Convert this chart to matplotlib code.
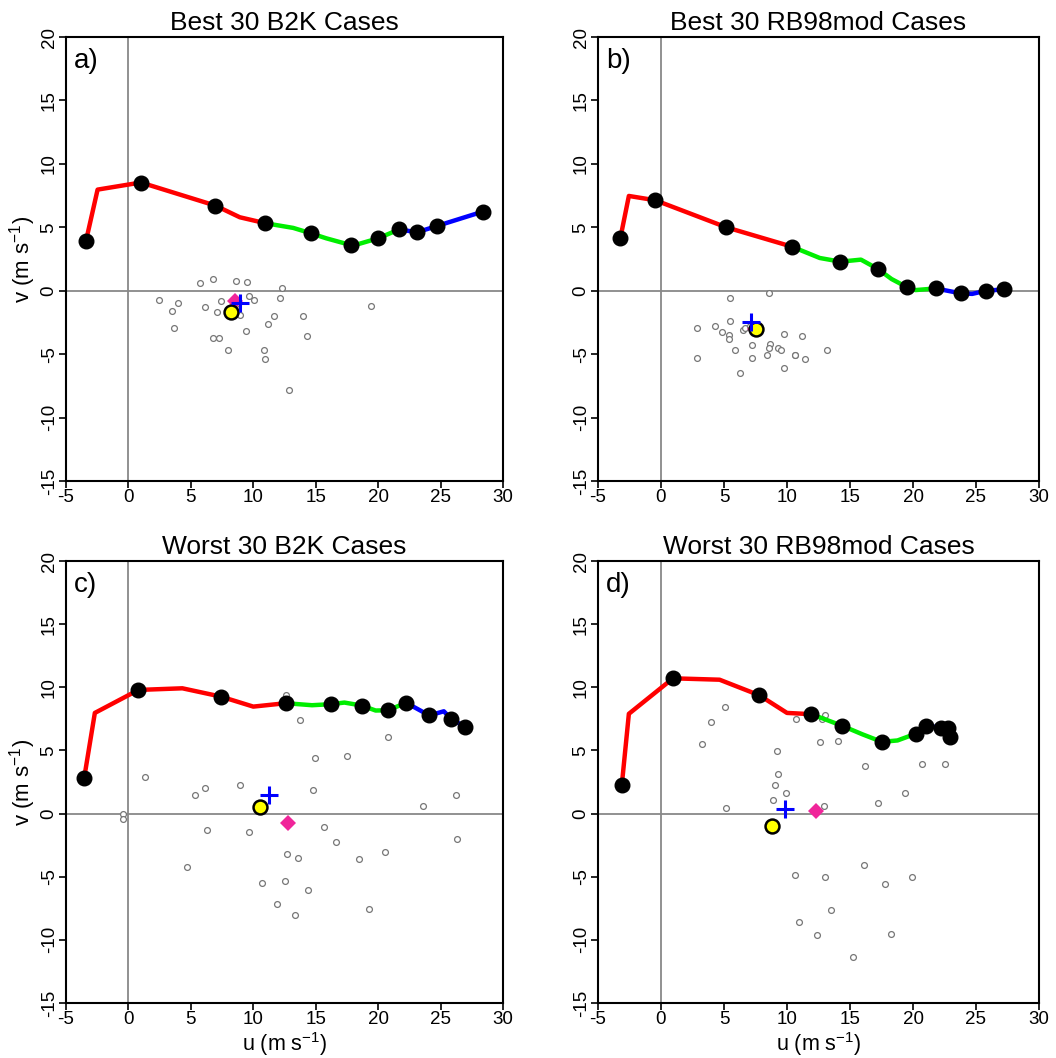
"""
Composite hodographs for the best / worst 30 cases (B2K and RB98mod),
with individual storm motions and mean motion markers.
"""

import matplotlib
matplotlib.use("Agg")
import matplotlib.pyplot as plt

plt.rcParams["font.family"] = ["Liberation Sans", "DejaVu Sans"]
plt.rcParams["mathtext.fontset"] = "custom"
plt.rcParams["mathtext.rm"] = "Liberation Sans"
plt.rcParams["mathtext.it"] = "Liberation Sans:italic"
plt.rcParams["axes.unicode_minus"] = False

# ─────────────────────────────────────────────
# a) Best 30 B2K
a_hodo_u = [-3.40, -2.47, 1.00, 6.97, 8.92, 10.97, 13.20, 14.60, 15.85, 17.80,
            18.50, 20.00, 21.70, 23.10, 24.70, 28.40]
a_hodo_v = [3.92, 7.97, 8.53, 6.71, 5.79, 5.32, 4.95, 4.53, 4.13, 3.60,
            3.70, 4.13, 4.84, 4.60, 5.10, 6.24]
a_dots = [0, 2, 3, 5, 7, 9, 11, 12, 13, 14, 15]
a_breaks = [5, 12]
a_scat_u = [5.77, 6.79, 8.63, 9.53, 12.28, 2.41, 3.96, 3.45, 6.17, 7.40,
            7.10, 9.64, 10.04, 12.10, 8.97, 11.67, 14.00, 11.16, 3.64, 9.42,
            6.79, 7.29, 14.30, 8.01, 10.87, 10.97, 12.90, 19.40, 8.20, 8.60]
a_scat_v = [0.58, 0.90, 0.79, 0.69, 0.19, -0.71, -1.00, -1.60, -1.31, -0.81,
            -1.71, -0.39, -0.71, -0.60, -1.92, -2.00, -2.00, -2.60, -2.92, -3.20,
            -3.71, -3.71, -3.60, -4.71, -4.71, -5.42, -7.81, -1.21, -1.75, -1.40]
a_yellow = (8.25, -1.70)
a_plus = (8.90, -0.95)
a_diamond = (8.50, -0.85)

# b) Best 30 RB98mod
b_hodo_u = [-3.22, -2.55, -0.45, 5.18, 10.40, 12.60, 14.24, 15.87, 17.22, 18.30,
            19.50, 20.20, 21.80, 23.80, 24.70, 25.80, 27.20]
b_hodo_v = [4.18, 7.47, 7.13, 5.00, 3.47, 2.58, 2.29, 2.45, 1.71, 0.92,
            0.29, 0.05, 0.18, -0.21, -0.25, 0.00, 0.10]
b_dots = [0, 2, 3, 4, 6, 8, 10, 12, 13, 15, 16]
b_breaks = [4, 12]
b_scat_u = [5.47, 8.58, 5.47, 2.85, 4.26, 4.86, 5.37, 5.37, 6.50, 6.70,
            9.80, 11.20, 5.86, 7.19, 8.69, 8.58, 9.30, 9.50, 2.85, 7.19,
            8.38, 10.61, 10.66, 11.41, 13.21, 9.80, 6.26, 7.50, 7.10, 7.70]
b_scat_v = [-0.60, -0.21, -2.42, -2.92, -2.81, -3.29, -3.50, -3.81, -3.10, -2.92,
            -3.39, -3.60, -4.71, -4.31, -4.21, -4.52, -4.52, -4.71, -5.31, -5.31,
            -5.10, -5.05, -5.10, -5.42, -4.71, -6.13, -6.52, -3.20, -2.80, -3.00]
b_yellow = (7.55, -3.02)
b_plus = (7.16, -2.50)
b_diamond = (7.45, -3.00)

# c) Worst 30 B2K
c_hodo_u = [-3.54, -2.69, 0.80, 4.32, 7.42, 10.00, 12.60, 14.70, 16.20, 17.30,
            18.70, 19.80, 20.78, 21.70, 22.27, 24.10, 25.26, 25.84, 26.96]
c_hodo_v = [2.84, 7.97, 9.79, 9.92, 9.26, 8.47, 8.74, 8.58, 8.66, 8.79,
            8.55, 8.16, 8.18, 8.55, 8.76, 7.77, 8.10, 7.50, 6.87]
c_dots = [0, 2, 4, 6, 8, 10, 12, 14, 15, 17, 18]
c_breaks = [6, 14]
c_scat_u = [12.59, 13.74, 20.75, 14.96, 17.50, 1.34, 6.11, 5.31, 8.96, 14.78,
            26.24, 23.60, -0.40, -0.40, 6.32, 9.66, 15.68, 16.59, 26.35, 4.70,
            12.72, 13.55, 18.43, 20.56, 10.67, 12.51, 14.35, 11.90, 13.34, 19.23]
c_scat_v = [9.37, 7.37, 6.08, 4.37, 4.58, 2.87, 2.05, 1.48, 2.27, 1.84,
            1.48, 0.58, -0.05, -0.42, -1.31, -1.42, -1.05, -2.23, -2.02, -4.23,
            -3.23, -3.55, -3.63, -3.05, -5.47, -5.37, -6.05, -7.15, -8.05, -7.55]
c_yellow = (10.50, 0.50)
c_plus = (11.23, 1.48)
c_diamond = (12.75, -0.76)

# d) Worst 30 RB98mod
d_hodo_u = [-3.11, -2.55, 0.95, 4.65, 7.80, 10.00, 11.94, 14.33, 16.00, 17.53,
            18.77, 20.27, 21.07, 22.20, 22.80, 22.92]
d_hodo_v = [2.27, 7.90, 10.71, 10.60, 9.37, 7.97, 7.87, 6.97, 6.27, 5.68,
            5.79, 6.34, 6.97, 6.79, 6.79, 6.05]
d_dots = [0, 2, 4, 6, 7, 9, 11, 12, 13, 14, 15]
d_breaks = [6, 12]
d_scat_u = [5.07, 3.96, 3.25, 10.72, 13.02, 12.81, 12.59, 14.02, 9.19, 16.22,
            20.75, 22.50, 9.30, 9.01, 9.90, 8.90, 19.36, 17.25, 5.18, 12.91,
            10.61, 13.02, 16.14, 17.74, 19.96, 13.52, 10.99, 12.42, 18.25, 15.21]
d_scat_v = [8.47, 7.26, 5.48, 7.47, 7.84, 7.47, 5.66, 5.76, 4.95, 3.76,
            3.95, 3.95, 3.16, 2.27, 1.66, 1.06, 1.66, 0.87, 0.45, 0.58,
            -4.84, -5.05, -4.05, -5.55, -5.05, -7.66, -8.55, -9.65, -9.55, -11.37]
d_yellow = (8.77, -0.97)
d_plus = (9.88, 0.35)
d_diamond = (12.30, 0.19)

TITLES = ["Best 30 B2K Cases", "Best 30 RB98mod Cases",
          "Worst 30 B2K Cases", "Worst 30 RB98mod Cases"]
LETTERS = ["a)", "b)", "c)", "d)"]
X_TICKS = [-5, 0, 5, 10, 15, 20, 25, 30]
Y_TICKS = [-15, -10, -5, 0, 5, 10, 15, 20]
SEG_COLORS = ["#ff0000", "#00ee00", "#0000ff"]

# axes rectangles in figure fraction (left, bottom, width, height)
W, H = 1056, 1058
RECTS = [
    (66 / W, 1 - 481 / H, 437 / W, 444 / H),
    (598 / W, 1 - 481 / H, 441 / W, 444 / H),
    (66 / W, 1 - 1003 / H, 437 / W, 442 / H),
    (598 / W, 1 - 1003 / H, 441 / W, 442 / H),
]


def draw_panel(ax, hu, hv, dots, breaks, su, sv, yellow, plus, diamond,
               title, letter):
    ax.set_xlim(-5, 30)
    ax.set_ylim(-15, 20)
    ax.axvline(0, color="#888888", lw=1.3, zorder=1)
    ax.axhline(0, color="#888888", lw=1.3, zorder=1)

    # individual storm motions
    ax.plot(su, sv, "o", ms=4.2, mfc="white", mec="#777777", mew=0.9, zorder=2)

    # hodograph, coloured by layer
    cuts = [0] + breaks + [len(hu) - 1]
    for k in range(3):
        i0, i1 = cuts[k], cuts[k + 1]
        ax.plot(hu[i0:i1 + 1], hv[i0:i1 + 1], color=SEG_COLORS[k], lw=3.2,
                solid_capstyle="round", solid_joinstyle="round", zorder=3)
    ax.plot([hu[i] for i in dots], [hv[i] for i in dots], "o", color="black",
            ms=10.5, zorder=4)

    ax.plot(*diamond, "D", color="#f0259a", ms=8.5, mew=0, zorder=5)
    ax.plot(*yellow, "o", mfc="#ffff00", mec="black", mew=1.8, ms=10, zorder=6)
    ax.plot(*plus, "+", color="#0000ff", ms=13, mew=2.2, zorder=7)

    ax.set_xticks(X_TICKS)
    ax.set_yticks(Y_TICKS)
    ax.tick_params(direction="out", length=5, width=1.2, labelsize=13.5,
                   pad=1)
    for lab in ax.get_yticklabels():
        lab.set_rotation(90)
        lab.set_va("center")
    for sp in ax.spines.values():
        sp.set_linewidth(1.5)

    ax.set_title(title, fontsize=19, pad=5)
    ax.text(0.018, 0.975, letter, transform=ax.transAxes, fontsize=20,
            ha="left", va="top")


fig = plt.figure(figsize=(W / 100, H / 100), dpi=100)

panels = [
    (a_hodo_u, a_hodo_v, a_dots, a_breaks, a_scat_u, a_scat_v,
     a_yellow, a_plus, a_diamond),
    (b_hodo_u, b_hodo_v, b_dots, b_breaks, b_scat_u, b_scat_v,
     b_yellow, b_plus, b_diamond),
    (c_hodo_u, c_hodo_v, c_dots, c_breaks, c_scat_u, c_scat_v,
     c_yellow, c_plus, c_diamond),
    (d_hodo_u, d_hodo_v, d_dots, d_breaks, d_scat_u, d_scat_v,
     d_yellow, d_plus, d_diamond),
]

for k, data in enumerate(panels):
    ax = fig.add_axes(RECTS[k])
    draw_panel(ax, *data, TITLES[k], LETTERS[k])
    if k in (0, 2):
        ax.set_ylabel("v (m s$^{-1}$)", fontsize=16, labelpad=2)
    if k in (2, 3):
        ax.set_xlabel("u (m s$^{-1}$)", fontsize=15.5, labelpad=1)

fig.savefig("out.png", dpi=100)
